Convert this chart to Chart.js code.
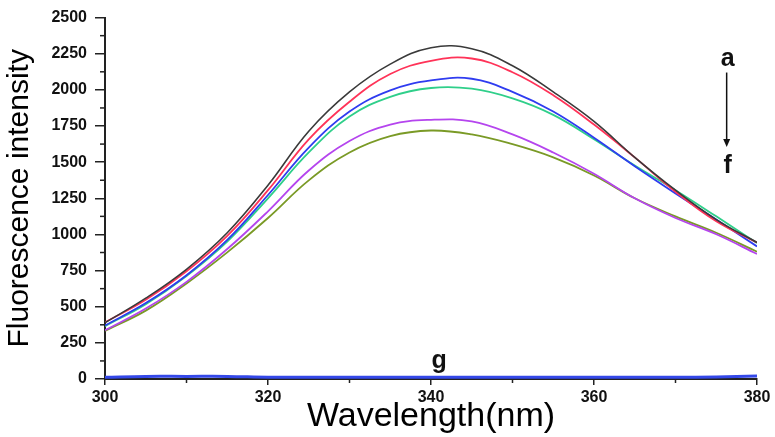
<!DOCTYPE html>
<html>
<head>
<meta charset="utf-8">
<script src="https://cdn.jsdelivr.net/npm/chart.js@4/dist/chart.umd.min.js"></script>
<style>
  body { margin: 0; background: #fff; }
  canvas { display: block; }
</style>
</head>
<body>
<canvas id="spectra" width="775" height="437"></canvas>
<script>
// Wavelength grid (nm) and intensities
const wavelengths = [300, 305, 310, 315, 320, 325, 330, 335, 340, 345, 350, 355, 360, 365, 370, 375, 380];

const curveA = [389, 559, 759, 1012, 1341, 1714, 1986, 2178, 2292, 2285, 2167, 1986, 1782, 1533, 1306, 1103, 944];
const curveB = [392, 548, 745, 990, 1306, 1658, 1918, 2110, 2201, 2217, 2122, 1963, 1760, 1533, 1295, 1091, 944];
const curveC = [370, 525, 718, 962, 1273, 1601, 1850, 1997, 2065, 2077, 1986, 1850, 1669, 1472, 1284, 1103, 917];
const curveD = [365, 518, 713, 951, 1250, 1567, 1816, 1952, 2013, 2008, 1941, 1827, 1658, 1476, 1306, 1125, 940];
const curveE = [337, 487, 672, 899, 1160, 1442, 1646, 1760, 1793, 1782, 1692, 1567, 1420, 1250, 1114, 1001, 865];
const curveF = [333, 473, 661, 876, 1114, 1374, 1567, 1680, 1719, 1692, 1624, 1533, 1408, 1250, 1125, 1012, 881];
const curveG = [12, 18, 18, 18, 12, 12, 12, 12, 12, 12, 12, 12, 12, 12, 12, 14, 20];

const curveNames = ['a', 'b', 'c', 'd', 'e', 'f', 'g'];
const curveColors = ['#3a3a3a', '#ff3358', '#2f3cf0', '#2fcf8a', '#b545ee', '#7a9a26', '#3448e8'];

const xTicks = [300, 320, 340, 360, 380];
const yTicks = [0, 250, 500, 750, 1000, 1250, 1500, 1750, 2000, 2250, 2500];

const tickFont = { family: 'Liberation Sans, Arial, sans-serif', size: 16, weight: 'bold' };

function toPoints(values) {
    return wavelengths.map((w, i) => ({ x: w, y: values[i] }));
}

// Minor ticks and the a -> f / g labels
const extrasPlugin = {
    id: 'extras',
    afterDraw(chart) {
        const ctx = chart.ctx;
        const xs = chart.scales.x;
        const ys = chart.scales.y;
        const left = chart.chartArea.left;
        const bottom = chart.chartArea.bottom;
        ctx.save();
        ctx.strokeStyle = '#222';
        ctx.lineWidth = 1.5;
        // minor y ticks
        for (let i = 0; i < yTicks.length - 1; i++) {
            const py = ys.getPixelForValue((yTicks[i] + yTicks[i + 1]) / 2);
            ctx.beginPath();
            ctx.moveTo(left - 5, py);
            ctx.lineTo(left, py);
            ctx.stroke();
        }
        // minor x ticks
        for (let i = 0; i < xTicks.length - 1; i++) {
            const px = xs.getPixelForValue((xTicks[i] + xTicks[i + 1]) / 2);
            ctx.beginPath();
            ctx.moveTo(px, bottom);
            ctx.lineTo(px, bottom + 4);
            ctx.stroke();
        }

        // labels and arrow
        ctx.fillStyle = '#111';
        ctx.textAlign = 'center';
        ctx.textBaseline = 'middle';
        ctx.font = 'bold 25px Liberation Sans, Arial, sans-serif';
        const ax = xs.getPixelForValue(376.4);
        ctx.fillText('a', ax, ys.getPixelForValue(2215));
        ctx.fillText('f', ax, ys.getPixelForValue(1474));
        ctx.fillText('g', xs.getPixelForValue(341), ys.getPixelForValue(125));

        const arrowTop = ys.getPixelForValue(2120);
        const arrowEnd = ys.getPixelForValue(1605);
        ctx.strokeStyle = '#111';
        ctx.lineWidth = 1.5;
        ctx.beginPath();
        ctx.moveTo(ax - 1, arrowTop);
        ctx.lineTo(ax - 1, arrowEnd - 6);
        ctx.stroke();
        ctx.beginPath();
        ctx.moveTo(ax - 4.5, arrowEnd - 8);
        ctx.lineTo(ax + 2.5, arrowEnd - 8);
        ctx.lineTo(ax - 1, arrowEnd);
        ctx.closePath();
        ctx.fill();
        ctx.restore();
    }
};

const allCurves = [curveA, curveB, curveC, curveD, curveE, curveF, curveG];

new Chart(document.getElementById('spectra'), {
    type: 'line',
    data: {
        datasets: allCurves.map((values, i) => ({
            label: curveNames[i],
            data: toPoints(values),
            borderColor: curveColors[i],
            borderWidth: i === 6 ? 3 : (i === 0 ? 1.6 : 1.8),
            pointRadius: 0,
            fill: false,
            tension: 0.4
        }))
    },
    options: {
        responsive: false,
        animation: false,
        layout: { padding: { top: 11, right: 18, left: 0, bottom: 0 } },
        plugins: {
            legend: { display: false },
            tooltip: { enabled: false }
        },
        scales: {
            x: {
                type: 'linear',
                min: 300,
                max: 380,
                afterBuildTicks: (scale) => { scale.ticks = xTicks.map(v => ({ value: v })); },
                afterFit: (scale) => { scale.height = 58; },
                border: { color: '#222', width: 2 },
                grid: { drawOnChartArea: false, tickLength: 6, color: '#222', lineWidth: 1.5 },
                ticks: { color: '#111', font: tickFont, padding: 3, maxRotation: 0, callback: (v) => String(v) },
                title: {
                    display: true,
                    text: 'Wavelength(nm)',
                    color: '#000',
                    font: { family: 'Liberation Sans, Arial, sans-serif', size: 34 },
                    padding: { top: 0, bottom: 0 }
                }
            },
            y: {
                min: 0,
                max: 2500,
                afterBuildTicks: (scale) => { scale.ticks = yTicks.map(v => ({ value: v })); },
                afterFit: (scale) => { scale.width = 105; },
                border: { color: '#222', width: 2 },
                grid: { drawOnChartArea: false, tickLength: 10, color: '#222', lineWidth: 1.5 },
                ticks: { color: '#111', font: tickFont, padding: 8, callback: (v) => String(v) },
                title: {
                    display: true,
                    text: 'Fluorescence intensity',
                    color: '#000',
                    font: { family: 'Liberation Sans, Arial, sans-serif', size: 30 },
                    padding: { top: 2, bottom: 0 }
                }
            }
        }
    },
    plugins: [extrasPlugin]
});
</script>
</body>
</html>
